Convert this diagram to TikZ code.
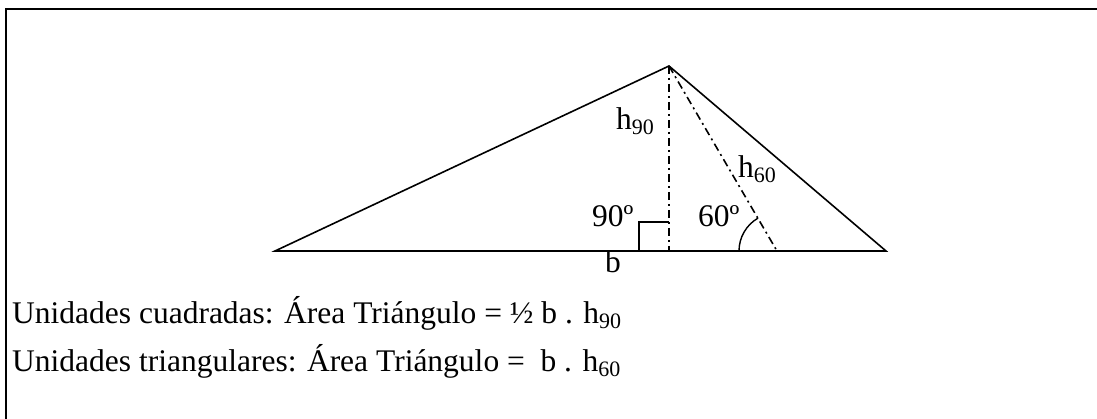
\documentclass[tikz,border=0pt]{standalone}
\usepackage{fontspec}
\setmainfont{Liberation Serif}
\usetikzlibrary{positioning, calc}

% lowered index, as in h_90
\newcommand{\hidx}[1]{\raisebox{-5pt}{\fontsize{22}{22}\selectfont #1}}

\begin{document}
\begin{tikzpicture}[x=1pt, y=-1pt,
  frame/.style={line width=2pt, draw=black},
  side/.style={line width=1.6pt, draw=black, line join=miter},
  hline/.style={line width=1.6pt, draw=black, dash pattern=on 8pt off 4pt on 2pt off 4pt},
  anglemark/.style={line width=1.4pt, draw=black},
  lbl/.style={inner sep=0pt, anchor=base west, font=\fontsize{31.5}{38}\selectfont}
]

\useasboundingbox (0,0) rectangle (1097,419);

% Frame
\draw[frame] (6,419) -- (6,9) -- (1097,9);

% Triangle corners
\coordinate (left) at (275,251);
\coordinate (right) at (886,251);
\coordinate (apex) at (669,66);
\coordinate (foot) at (669,251);
\coordinate (foot60) at (777,251);

% Triangle
\draw[side] (left) -- (right) -- (apex) -- cycle;

% Heights
\draw[hline] (apex) -- (foot);
\draw[hline] (apex) -- (foot60);

% Right angle and 60 degree marks
\draw[anglemark] ($(foot)+(-30,0)$) -- ++(0,-29) -- ($(foot)+(0,-29)$);
\draw[anglemark] ($(foot60)+(-38,0)$) arc[start angle=180, end angle=120, radius=38pt];

% Labels
\node[lbl] (h90) at (616,130) {h\hidx{90}};
\node[lbl] (h60) at (738,178) {h\hidx{60}};
\node[lbl] (ang90) at (592,227) {90º};
\node[lbl] (ang60) at (698,227) {60º};
\node[lbl] (base) at (605,273) {b};

% Formulas
\node[lbl] (sqarea) at (12,324) {Unidades cuadradas: Área Triángulo = ½ b . h\hidx{90}};
\node[lbl] (triarea) at (12,371) {Unidades triangulares: Área Triángulo =\ \ b . h\hidx{60}};

\end{tikzpicture}
\end{document}
